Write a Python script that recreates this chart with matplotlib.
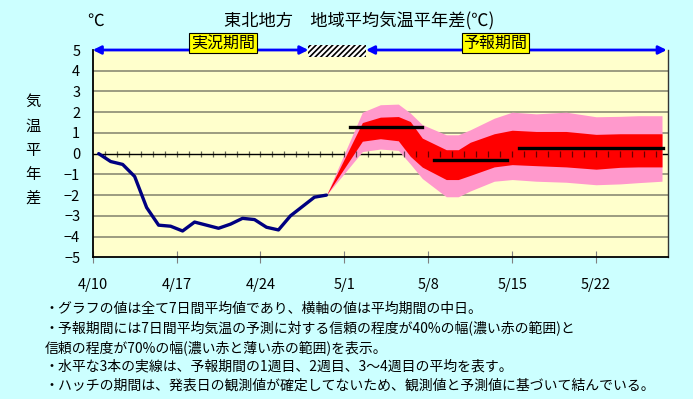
import numpy as np
import matplotlib
matplotlib.use('Agg')
import matplotlib.pyplot as plt
from matplotlib.patches import Rectangle

plt.rcParams['font.family'] = ['Noto Sans CJK JP', 'DejaVu Sans']
plt.rcParams['hatch.linewidth'] = 1.2

# --- data (x = days since 4/10, values at day centres) ---
obs_x = [0.5, 1.5, 2.5, 3.5, 4.5, 5.5, 6.5, 7.5, 8.5, 9.5,
         10.5, 11.5, 12.5, 13.5, 14.5, 15.5, 16.5, 17.5, 18.5, 19.5]
obs_y = [0.0, -0.38, -0.52, -1.1, -2.6, -3.45, -3.5, -3.73, -3.3, -3.45,
         -3.6, -3.4, -3.12, -3.18, -3.55, -3.68, -3.0, -2.55, -2.1, -2.0]

fc_x = [19.5, 22.5, 24.0, 25.5, 26.5, 27.5, 29.5, 30.5, 31.5, 33.5,
        35.0, 37.0, 39.5, 42.0, 44.0, 45.5, 47.5]
p70_hi = [-2.0, 2.0, 2.36, 2.39, 1.96, 1.4, 0.91, 0.91, 1.15, 1.71,
          2.0, 1.92, 2.0, 1.78, 1.8, 1.83, 1.83]
p40_hi = [-2.0, 1.5, 1.76, 1.79, 1.55, 0.75, 0.19, 0.19, 0.55, 0.96,
          1.13, 1.07, 1.07, 0.93, 0.96, 0.96, 0.96]
p40_lo = [-2.0, 0.6, 0.72, 0.62, -0.13, -0.65, -1.25, -1.25, -1.05, -0.64,
          -0.53, -0.58, -0.64, -0.75, -0.66, -0.64, -0.64]
p70_lo = [-2.0, 0.1, 0.22, 0.16, -0.5, -1.2, -2.08, -2.08, -1.8, -1.33,
          -1.25, -1.33, -1.38, -1.5, -1.46, -1.4, -1.33]

week_start = [21.5, 28.5, 35.6]
week_end = [27.5, 34.6, 47.6]
week_val = [1.3, -0.3, 0.27]

xtick_pos = [0, 7, 14, 21, 28, 35, 42]
xtick_lab = ['4/10', '4/17', '4/24', '5/1', '5/8', '5/15', '5/22']
notes = ['・グラフの値は全て7日間平均値であり、横軸の値は平均期間の中日。',
         '・予報期間には7日間平均気温の予測に対する信頼の程度が40%の幅(濃い赤の範囲)と',
         '信頼の程度が70%の幅(濃い赤と薄い赤の範囲)を表示。',
         '・水平な3本の実線は、予報期間の1週目、2週目、3～4週目の平均を表す。',
         '・ハッチの期間は、発表日の観測値が確定してないため、観測値と予測値に基づいて結んでいる。']

W, H = 693, 399
def fx(px): return px / W
def fy(py): return 1 - py / H

fig = plt.figure(figsize=(W / 100, H / 100), dpi=100, facecolor='#CCFFFF')
ax = fig.add_axes([fx(92.7), fy(257.3), (668 - 92.7) / W, (257.3 - 50) / H])
ax.set_facecolor('#FFFFCC')
ax.set_xlim(0, 48)
ax.set_ylim(-5, 5)

# grid
for y in range(-4, 5):
    if y != 0:
        ax.axhline(y, color='#9C9C80', lw=1.4, zorder=1)
ax.axhline(0, color='black', lw=1.0, zorder=1)

# forecast bands
ax.fill_between(fc_x, p70_lo, p70_hi, color='#FF99CC', lw=0, zorder=2)
ax.fill_between(fc_x, p40_lo, p40_hi, color='#FF0000', lw=0, zorder=3)

# day ticks on zero line
ax.vlines(np.arange(1, 48), -0.15, 0.15, color='black', lw=0.9, alpha=0.6, zorder=4)

# observed
ax.plot(obs_x, obs_y, color='#000080', lw=2.4, solid_joinstyle='round',
        solid_capstyle='round', zorder=5)

# weekly means
for s, e, v in zip(week_start, week_end, week_val):
    ax.plot([s, e], [v, v], color='black', lw=2.4, zorder=6)

# axes styling
ax.set_xticks(xtick_pos)
ax.set_xticklabels(xtick_lab)
ax.set_yticks(range(-5, 6))
ax.tick_params(axis='x', direction='inout', length=8, color='#808080',
               labelsize=10.5, pad=11)
ax.tick_params(axis='y', length=0, labelsize=10.5, pad=9)
ax.spines['top'].set_visible(False)
for sp in ['left', 'bottom']:
    ax.spines[sp].set_linewidth(1.3)
    ax.spines[sp].set_color('black')
ax.spines['right'].set_linewidth(1.0)
ax.spines['right'].set_color('#333333')

# period arrows
arr = dict(arrowstyle='<|-|>', color='#0000FF', lw=2.0, mutation_scale=12,
           shrinkA=0, shrinkB=0)
ax.annotate('', xy=(0, 5), xytext=(18, 5), arrowprops=arr, annotation_clip=False, zorder=7)
ax.annotate('', xy=(22.8, 5), xytext=(47.9, 5), arrowprops=arr, annotation_clip=False, zorder=7)
ax.add_patch(Rectangle((18, 4.68), 4.8, 0.56, facecolor='white', edgecolor='black',
                       hatch='//////', lw=0, clip_on=False, zorder=8))

box = dict(boxstyle='square,pad=0.1', facecolor='#FFFF00', edgecolor='black', lw=0.8)
fig.text(fx(223), fy(43.3), '実況期間', fontsize=11.5, ha='center', va='center', bbox=box)
fig.text(fx(495.5), fy(43.3), '予報期間', fontsize=11.5, ha='center', va='center', bbox=box)

# titles
fig.text(fx(359), fy(21.7), '東北地方　地域平均気温平年差(℃)', fontsize=12.4,
         ha='center', va='center')
fig.text(fx(96), fy(21.7), '℃', fontsize=12, ha='center', va='center')
fig.text(fx(33), fy(150), '\n'.join('気温平年差'), fontsize=11, ha='center',
         va='center', linespacing=1.55)

# notes
for i, t in enumerate(notes):
    fig.text(fx(45), fy(309 + i * 19.2), t, fontsize=10, ha='left', va='center')

fig.savefig('out.png', dpi=100, facecolor=fig.get_facecolor())
